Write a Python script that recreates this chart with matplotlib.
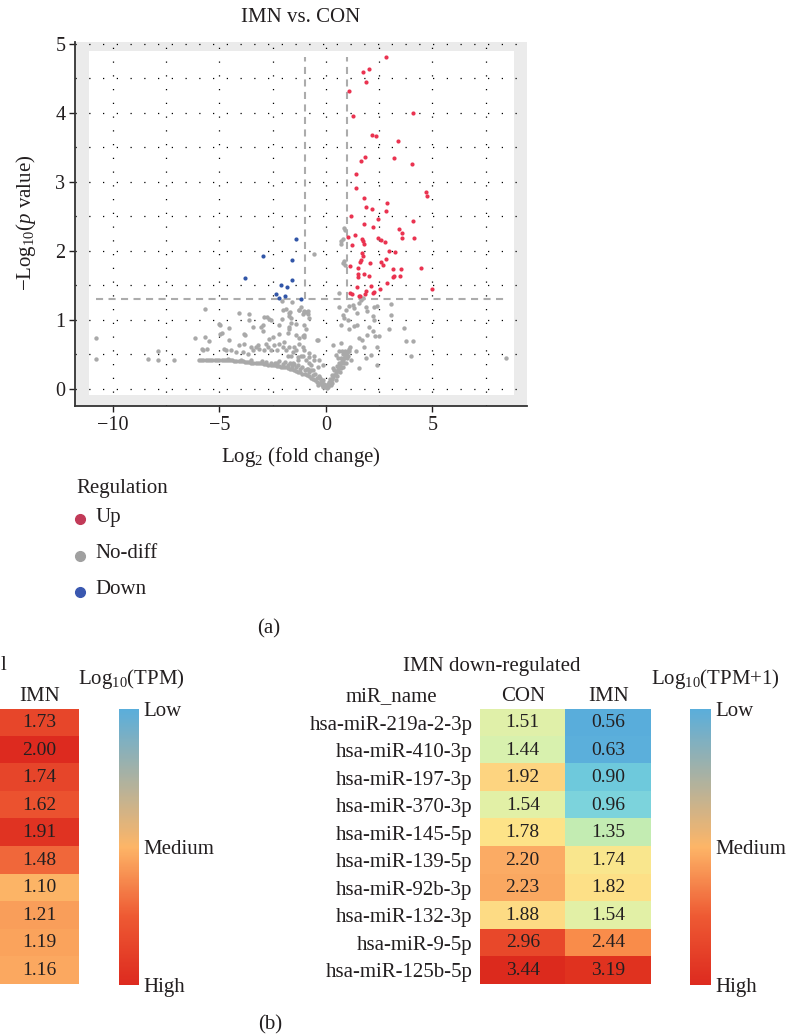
import numpy as np
import matplotlib
matplotlib.use('Agg')
import matplotlib.pyplot as plt
from matplotlib.colors import LinearSegmentedColormap, Normalize
from matplotlib.patches import Rectangle
from matplotlib.lines import Line2D
import matplotlib.cm as cm

# ---- volcano data (log2 fold change, -log10 p) ----
up_pts = [
    (2.81, 4.81), (2.00, 4.64), (1.73, 4.59), (1.87, 4.44), (1.10, 4.31), (1.29, 3.96),
    (4.08, 3.99), (2.16, 3.68), (2.37, 3.66), (3.39, 3.59), (1.84, 3.36), (1.63, 3.30),
    (3.19, 3.35), (4.05, 3.26), (1.40, 3.11), (1.39, 2.91), (4.71, 2.85), (4.73, 2.80),
    (1.81, 2.77), (2.89, 2.69), (1.90, 2.63), (2.18, 2.60), (2.81, 2.57), (1.18, 2.51),
    (2.44, 2.46), (4.11, 2.43), (1.77, 2.39), (2.21, 2.35), (3.44, 2.32), (3.55, 2.26),
    (3.56, 2.18), (4.13, 2.18), (1.37, 2.23), (1.02, 2.20), (1.69, 2.17), (1.74, 2.14),
    (1.77, 2.10), (2.45, 2.19), (2.60, 2.16), (2.76, 2.12), (1.24, 2.08), (1.69, 1.97),
    (1.73, 1.93), (2.95, 2.00), (3.23, 1.98), (1.65, 1.87), (1.61, 1.83), (2.06, 1.82),
    (2.82, 1.88), (2.58, 1.84), (2.69, 1.79), (1.13, 1.78), (1.52, 1.75), (3.15, 1.73),
    (3.52, 1.73), (4.45, 1.75), (1.50, 1.67), (1.81, 1.66), (2.02, 1.63), (3.18, 1.64),
    (3.47, 1.64), (1.50, 1.62), (3.15, 1.62), (2.87, 1.53), (2.13, 1.49), (4.98, 1.45),
    (2.55, 1.44), (1.90, 1.41), (2.27, 1.40), (1.13, 1.39), (1.24, 1.37), (1.56, 1.35),
    (1.84, 1.37), (2.21, 1.39), (1.47, 1.47), (1.62, 1.35),
]
down_pts = [
    (-1.42, 2.17), (-2.97, 1.92), (-1.58, 1.86), (-3.81, 1.61), (-1.58, 1.58), (-2.11, 1.51),
    (-1.85, 1.48), (-2.34, 1.38), (-1.92, 1.34), (-2.18, 1.31), (-1.16, 1.30),
]
nodiff_pts = [
    # isolated points far left / right
    (-10.8, 0.73), (-10.8, 0.43), (-8.34, 0.43), (-7.90, 0.54), (-7.87, 0.42), (-7.12, 0.42),
    (-6.15, 0.73), (-5.68, 1.16), (-5.66, 0.75), (-5.47, 0.69), (-5.78, 0.56), (-5.59, 0.57),
    (-5.84, 0.57), (8.44, 0.44), (3.67, 0.88), (3.75, 0.69), (4.09, 0.69), (3.98, 0.48),
    # flat run and lower curve
    (-5.95, 0.42), (-5.85, 0.42), (-5.75, 0.42), (-5.65, 0.42), (-5.55, 0.42), (-5.45, 0.42),
    (-5.35, 0.42), (-5.2, 0.41), (-5.1, 0.41), (-5.0, 0.41), (-4.9, 0.41), (-4.8, 0.41),
    (-4.7, 0.41), (-4.6, 0.41), (-4.5, 0.41), (-4.4, 0.41), (-4.3, 0.40), (-4.2, 0.40),
    (-4.1, 0.40), (-4.0, 0.40), (-3.9, 0.40), (-3.8, 0.39), (-3.7, 0.39), (-3.6, 0.39),
    (-3.5, 0.38), (-3.4, 0.38), (-3.3, 0.38), (-3.2, 0.37), (-3.1, 0.37), (-3.0, 0.37),
    (-2.9, 0.36), (-2.8, 0.36), (-2.7, 0.35), (-2.6, 0.35), (-2.5, 0.34), (-2.4, 0.34),
    (-2.3, 0.33), (-2.2, 0.33), (-2.1, 0.32), (-2.0, 0.32), (-1.9, 0.31), (-1.8, 0.30),
    (-1.7, 0.29), (-1.6, 0.28), (-1.5, 0.27), (-1.4, 0.26), (-1.3, 0.25), (-1.2, 0.24),
    (-1.1, 0.22), (-1.0, 0.21), (-0.9, 0.20), (-0.8, 0.18), (-0.7, 0.16), (-0.6, 0.14),
    (-0.5, 0.12), (-0.4, 0.10), (-0.3, 0.08), (-0.2, 0.05), (-0.1, 0.03), (0.0, 0.02),
    # upper edge of the band
    (-4.6, 0.43), (-4.0, 0.42), (-3.5, 0.41), (-3.0, 0.40), (-2.6, 0.38), (-2.3, 0.37),
    (-2.0, 0.36), (-1.9, 0.39), (-1.8, 0.34), (-1.6, 0.33), (-1.5, 0.36), (-1.4, 0.31),
    (-1.2, 0.29), (-1.1, 0.32), (-1.0, 0.27), (-0.8, 0.24), (-0.7, 0.27), (-0.6, 0.20),
    (-0.4, 0.16), (-0.3, 0.15), (-0.2, 0.10), (-0.1, 0.07), (-2.8, 0.39), (-2.4, 0.38),
    (-2.2, 0.40), (-1.7, 0.37), (-1.3, 0.34), (-0.9, 0.29), (-0.5, 0.21), (-0.25, 0.13),
    (-0.05, 0.05), (-0.15, 0.02), (-0.35, 0.05),
    # right branch of the V
    (0.05, 0.01), (0.1, 0.03), (0.15, 0.05), (0.2, 0.08), (0.25, 0.11), (0.3, 0.14),
    (0.35, 0.17), (0.4, 0.20), (0.45, 0.23), (0.5, 0.26), (0.55, 0.29), (0.6, 0.31),
    (0.65, 0.34), (0.7, 0.37), (0.75, 0.40), (0.8, 0.42), (0.85, 0.45), (0.9, 0.48),
    (0.95, 0.50), (1.0, 0.52), (1.05, 0.55), (1.1, 0.57), (1.15, 0.60), (0.2, 0.14),
    (0.3, 0.20), (0.4, 0.27), (0.5, 0.33), (0.6, 0.38), (0.7, 0.44), (0.8, 0.50),
    (0.9, 0.55), (0.35, 0.30), (0.55, 0.45), (0.75, 0.55), (0.65, 0.25), (0.45, 0.12),
    (0.25, 0.05), (0.15, 0.10), (0.1, 0.07), (0.3, 0.09), (0.5, 0.19), (0.7, 0.30),
    (0.85, 0.38), (1.0, 0.45),
    # scatter above the curve, left side
    (-4.97, 0.93), (-4.53, 0.88), (-4.89, 0.81), (-3.59, 1.09), (-3.44, 0.90), (-3.05, 0.90),
    (-2.97, 0.84), (-2.78, 1.04), (-2.66, 1.01), (-3.83, 0.80), (-2.19, 0.92), (-2.06, 1.01),
    (-1.88, 1.16), (-1.72, 1.06), (-1.64, 0.95), (-1.72, 0.89), (-1.77, 0.81), (-1.25, 1.14),
    (-1.09, 1.09), (-0.86, 1.09), (-1.02, 0.92), (-0.94, 0.87), (-1.09, 0.77), (-1.02, 0.75),
    (-1.25, 0.65), (-0.42, 0.70), (-2.22, 0.80), (-2.50, 0.75), (-2.66, 0.72), (-2.81, 0.65),
    (-3.20, 0.63), (-3.28, 0.60), (-3.52, 0.60), (-3.83, 0.65), (-4.06, 0.63), (-4.56, 0.71),
    (-4.77, 0.58), (-4.69, 0.56), (-4.45, 0.56), (-4.22, 0.53), (-3.91, 0.53), (-3.67, 0.51),
    (-3.44, 0.56), (-3.13, 0.58), (-2.89, 0.56), (-2.73, 0.60), (-2.58, 0.56), (-2.42, 0.63),
    (-2.31, 0.56), (-2.19, 0.65), (-2.03, 0.60), (-1.95, 0.68), (-1.88, 0.56), (-1.80, 0.48),
    (-1.72, 0.60), (-1.56, 0.53), (-1.41, 0.56), (-1.33, 0.46), (-1.17, 0.48), (-1.02, 0.56),
    (-0.94, 0.41), (-0.78, 0.46), (-0.70, 0.34), (-0.86, 0.29), (-0.63, 0.27), (-0.55, 0.41),
    (-0.39, 0.31), (-0.31, 0.19), (-0.16, 0.12), (-5.00, 0.94), (-4.97, 0.80), (-4.08, 1.10),
    (-3.81, 0.78), (-3.60, 0.99), (-2.97, 0.92), (-2.90, 1.04), (-2.58, 1.00), (-2.00, 1.14),
    (-2.06, 1.27), (-1.58, 1.26), (-1.69, 1.11), (-1.26, 1.14), (-1.05, 1.11), (-0.92, 1.11),
    (-0.56, 1.96), (-1.72, 0.86), (-1.41, 0.78), (-1.25, 0.73), (-1.02, 0.78), (-1.09, 0.61),
    (-1.48, 0.61), (-0.39, 0.71), (-0.78, 0.52), (-0.55, 0.47), (-0.31, 0.42), (-0.16, 0.35),
    (-0.78, 0.37), (-1.09, 0.47), (-1.33, 0.42), (-1.64, 0.47), (-1.56, 0.37), (-1.17, 1.19),
    (-1.02, 1.12), (-0.86, 1.12), (-1.72, 1.10), (-0.78, 1.02), (-1.64, 1.02), (-1.41, 0.94),
    # right side below / near the threshold
    (0.73, 2.14), (0.81, 2.17), (0.69, 2.10), (0.85, 2.33), (0.89, 2.30), (0.78, 1.82),
    (0.86, 1.85), (0.91, 1.79), (0.63, 1.39), (0.63, 1.19), (0.78, 1.07), (0.86, 1.02),
    (0.94, 1.14), (1.06, 1.20), (1.25, 1.22), (1.33, 1.17), (1.48, 1.10), (1.56, 1.24),
    (1.64, 1.29), (1.72, 1.31), (1.88, 1.19), (1.95, 1.12), (2.19, 1.06), (2.27, 1.00),
    (2.27, 1.19), (2.38, 1.20), (3.05, 1.23), (3.05, 1.07), (2.97, 0.86), (0.70, 0.93),
    (1.02, 1.00), (1.09, 0.86), (1.33, 0.91), (1.48, 0.93), (1.56, 0.73), (1.69, 0.71),
    (1.80, 0.61), (1.91, 0.78), (2.03, 0.90), (2.19, 0.83), (2.31, 0.76), (2.47, 0.76),
    (2.42, 0.61), (2.38, 0.35), (2.11, 0.49), (1.88, 0.44), (1.53, 0.30), (1.41, 0.54),
    (0.31, 0.64), (0.70, 0.66), (0.63, 0.54), (0.47, 0.49), (1.09, 0.54), (1.02, 0.47),
    (1.17, 0.42), (0.94, 0.37), (0.78, 0.32),
]
fc_cut = 1.0
p_cut = 1.3

# ---- heatmap data ----
down_names = ['hsa-miR-219a-2-3p', 'hsa-miR-410-3p', 'hsa-miR-197-3p', 'hsa-miR-370-3p',
              'hsa-miR-145-5p', 'hsa-miR-139-5p', 'hsa-miR-92b-3p', 'hsa-miR-132-3p',
              'hsa-miR-9-5p', 'hsa-miR-125b-5p']
con_down = [1.51, 1.44, 1.92, 1.54, 1.78, 2.20, 2.23, 1.88, 2.96, 3.44]
imn_down = [0.56, 0.63, 0.90, 0.96, 1.35, 1.74, 1.82, 1.54, 2.44, 3.19]
imn_up = [1.73, 2.00, 1.74, 1.62, 1.91, 1.48, 1.10, 1.21, 1.19, 1.16]
level_labels = ['Low', 'Medium', 'High']

plt.rcParams['font.family'] = ['Liberation Serif', 'DejaVu Serif']
plt.rcParams['mathtext.fontset'] = 'custom'
plt.rcParams['mathtext.rm'] = 'Liberation Serif'
plt.rcParams['mathtext.it'] = 'Liberation Serif:italic'
ink = '#231f20'
plt.rcParams['text.color'] = ink
plt.rcParams['xtick.color'] = ink
plt.rcParams['ytick.color'] = ink

W, H = 792, 1036
fig = plt.figure(figsize=(W / 100, H / 100), dpi=100)


def box(l, t, r, b):
    # pixel box (from top-left) -> figure fraction rect
    return [l / W, 1 - b / H, (r - l) / W, (b - t) / H]


def ftext(x, y, s, **kw):
    return fig.text(x / W, 1 - y / H, s, **kw)


# ================= (a) volcano =================
ax = fig.add_axes(box(75, 41.7, 527, 406))
ax.set_facecolor('#ebebeb')
ax.add_patch(Rectangle((-11.1, -0.09), 19.93, 4.99, facecolor='white',
                       edgecolor='none', zorder=0.2))
ax.set_axisbelow(True)
ax.set_xlim(-11.78, 9.44)
ax.set_ylim(-0.25, 5.03)
ax.set_xticks([-10, -5, 0, 5])
ax.set_xticks([-7.5, -2.5, 2.5, 7.5], minor=True)
ax.set_yticks(range(6))
ax.set_yticks(np.arange(0.5, 5, 1.0), minor=True)
ax.set_xticklabels(['\u221210', '\u22125', '0', '5'])
ax.grid(which='both', color='black', linestyle=(0, (1, 10)), linewidth=0.9)
ax.tick_params(which='minor', length=0)
ax.tick_params(which='major', direction='out', length=4, width=1, labelsize=14.5, pad=3)
for s in ['top', 'right']:
    ax.spines[s].set_visible(False)
for s in ['left', 'bottom']:
    ax.spines[s].set_linewidth(1.3)
    ax.spines[s].set_color('#333333')

ng = np.array(nodiff_pts)
up = np.array(up_pts)
dn = np.array(down_pts)
allx = np.concatenate([ng[:, 0], up[:, 0], dn[:, 0]])
ally = np.concatenate([ng[:, 1], up[:, 1], dn[:, 1]])

ax.scatter(ng[:, 0], ng[:, 1], s=10, color='#a9a9a9', linewidths=0, zorder=2)
ax.scatter(up[:, 0], up[:, 1], s=9, color='#ea3350', linewidths=0, zorder=3)
ax.scatter(dn[:, 0], dn[:, 1], s=9, color='#3256a8', linewidths=0, zorder=3)

dash_kw = dict(color='#acacac', linewidth=1.5, dashes=(3.4, 2.6), zorder=2.5)
ax.plot([allx.min(), allx.max()], [p_cut, p_cut], **dash_kw)
ax.plot([-fc_cut, -fc_cut], [p_cut, ally.max()], **dash_kw)
ax.plot([fc_cut, fc_cut], [p_cut, ally.max()], **dash_kw)

ftext(301, 18, 'IMN vs. CON', ha='center', va='center', fontsize=15)
ftext(301, 457, r'Log$_2$ (fold change)', ha='center', va='center', fontsize=15)
ftext(26, 223, r'$-$Log$_{10}$($p$ value)', ha='center', va='center',
      rotation=90, fontsize=15)

# legend
ftext(76, 488, 'Regulation', ha='left', va='center', fontsize=15)
for lab, col, yy in [('Up', '#c23a58', 517), ('No-diff', '#a0a0a0', 554),
                     ('Down', '#3a58b0', 590)]:
    fig.add_artist(Line2D([80 / W], [1 - (yy + 1.5) / H], marker='o', markersize=7,
                          color=col, linestyle='none', transform=fig.transFigure))
    ftext(95.5, yy, lab, ha='left', va='center', fontsize=15)

ftext(269, 629, '(a)', ha='center', va='center', fontsize=15)
ftext(270, 1025, '(b)', ha='center', va='center', fontsize=15)

# ================= (b) heatmaps =================
bar_cmap = LinearSegmentedColormap.from_list(
    'bar', [(0.0, '#5aaedb'), (0.5, '#fdb567'), (0.75, '#ee5a33'), (1.0, '#dd2a1f')])
spec_cmap = LinearSegmentedColormap.from_list(
    'spec', [(0.0, '#59acdb'), (0.04, '#5bafdb'), (0.13, '#6cc8dd'), (0.16, '#82d7dc'),
             (0.28, '#c2ecb3'), (0.32, '#ddf2ae'), (0.37, '#e8efa0'), (0.42, '#fde58a'),
             (0.46, '#fddb84'), (0.48, '#fdd27f'), (0.57, '#fbab64'), (0.65, '#f98b4a'),
             (0.82, '#e8482a'), (0.90, '#e0321f'), (1.0, '#dc291d')])

# left (cropped) heatmap: only IMN column visible
axl = fig.add_axes(box(0, 709, 79, 984))
axl.imshow(np.array(imn_up)[:, None], cmap=bar_cmap, vmin=0.2, vmax=2.0, aspect='auto')
for i, v in enumerate(imn_up):
    axl.text(0, i, f'{v:.2f}', ha='center', va='center', fontsize=14)
axl.set_yticks([])
axl.xaxis.tick_top()
axl.set_xticks([0])
axl.set_xticklabels(['IMN'], fontsize=15)
axl.tick_params(length=0, pad=2)
for s in axl.spines.values():
    s.set_visible(False)
# only the last glyph of the cropped left title is visible
ftext(0.5, 666, 'l', ha='left', va='center', fontsize=15)

# right heatmap
axr = fig.add_axes(box(480, 709, 651, 984))
mat = np.column_stack([con_down, imn_down])
axr.imshow(mat, cmap=spec_cmap, vmin=0.5, vmax=3.5, aspect='auto')
for i in range(mat.shape[0]):
    for j in range(mat.shape[1]):
        axr.text(j, i, f'{mat[i, j]:.2f}', ha='center', va='center', fontsize=14)
axr.set_yticks(range(len(down_names)))
axr.set_yticklabels(down_names, fontsize=15)
axr.xaxis.tick_top()
axr.set_xticks([0, 1])
axr.set_xticklabels(['CON', 'IMN'], fontsize=15)
axr.tick_params(axis='x', length=0, pad=2)
axr.tick_params(axis='y', length=0, pad=5.5)
for s in axr.spines.values():
    s.set_visible(False)
ftext(391.7, 697, 'miR_name', ha='center', va='center', fontsize=15)
ftext(491.7, 666, 'IMN down-regulated', ha='center', va='center', fontsize=15)

# colour bars
for (l, r, title, tx) in [(119.3, 138.7, r'Log$_{10}$(TPM)', 131.7),
                          (690, 711, r'Log$_{10}$(TPM+1)', 715)]:
    cax = fig.add_axes(box(l, 709, r, 985))
    cb = fig.colorbar(cm.ScalarMappable(norm=Normalize(0, 1), cmap=bar_cmap), cax=cax)
    cax.invert_yaxis()
    cb.set_ticks([0, 0.5, 1])
    cb.set_ticklabels(level_labels)
    cb.outline.set_visible(False)
    cax.tick_params(length=0, pad=3.5, labelsize=15)
    ftext(tx, 679, title, ha='center', va='center', fontsize=15)

fig.savefig('out.png', dpi=100)
